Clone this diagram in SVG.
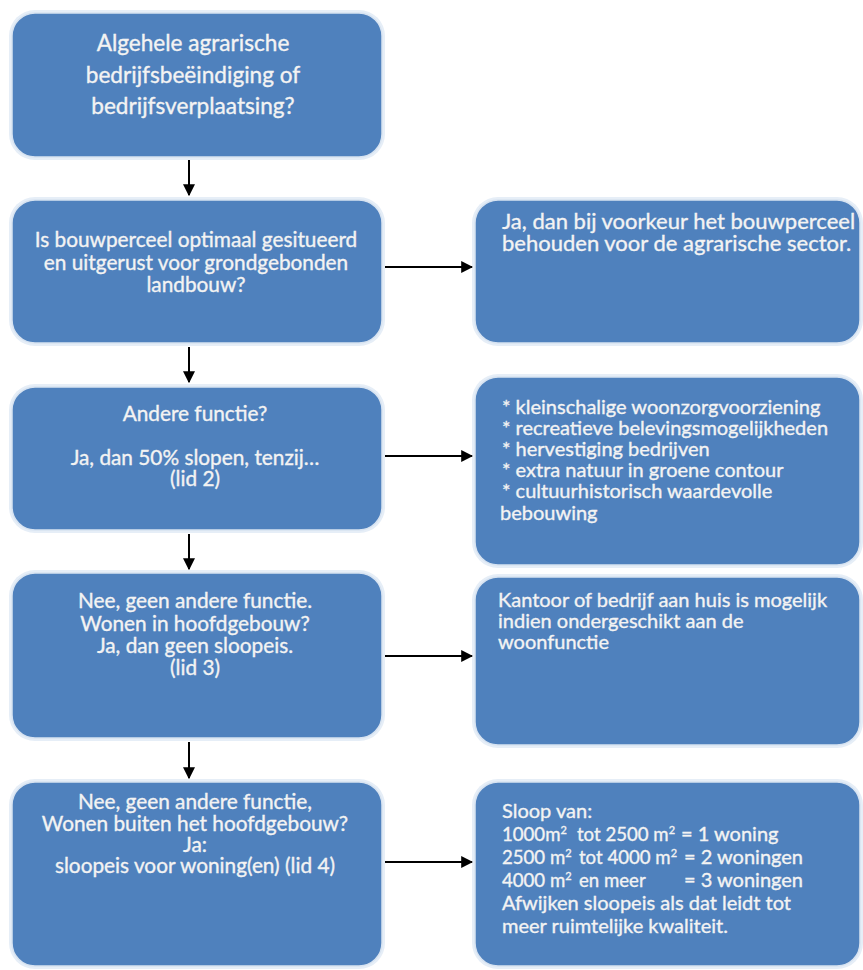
<svg xmlns="http://www.w3.org/2000/svg" width="863" height="970" viewBox="0 0 863 970">
<style>
.glow{fill:#e6eef7;}
.box{fill:#4f81bd;stroke:#d7e3f1;stroke-width:1.5;}
.t{font-family:Lato,"Liberation Sans",sans-serif;font-size:20px;fill:#f3f3f3;stroke:#f3f3f3;stroke-width:0.35px;}
.c{text-anchor:middle;}
.l{font-size:20.8px;}
.big{font-size:22.6px;}
.r2{font-size:22px;}
.num{font-size:18.6px;}
.sup{font-size:11px;}
.conn line{stroke:#000;stroke-width:2;}
</style>
<defs>
<marker id="ah" viewBox="0 0 10 10" refX="9" refY="5" markerWidth="6" markerHeight="6" orient="auto" markerUnits="strokeWidth">
<path d="M0,0 L10,5 L0,10 z" fill="#000"/>
</marker>
</defs>
<rect width="863" height="970" fill="#ffffff"/>

<g id="n1">
<rect class="glow" x="9" y="10" width="376" height="150" rx="26"/>
<rect class="box" x="12" y="13" width="370" height="144" rx="23"/>
<text class="t c big" x="193" y="51">Algehele agrarische</text>
<text class="t c big" x="193" y="83">bedrijfsbeëindiging of</text>
<text class="t c big" x="193" y="114">bedrijfsverplaatsing?</text>
</g>

<g id="n2">
<rect class="glow" x="9" y="197" width="376" height="149" rx="26"/>
<rect class="box" x="12" y="200" width="370" height="143" rx="23"/>
<text class="t c l" x="196" y="247">Is bouwperceel optimaal gesitueerd</text>
<text class="t c l" x="196" y="270">en uitgerust voor grondgebonden</text>
<text class="t c l" x="196" y="292">landbouw?</text>
</g>

<g id="n2r">
<rect class="glow" x="472" y="197" width="391" height="149" rx="26"/>
<rect class="box" x="475" y="200" width="385" height="143" rx="23"/>
<text class="t r2" x="502" y="229">Ja, dan bij voorkeur het bouwperceel</text>
<text class="t r2" x="502" y="251">behouden voor de agrarische sector.</text>
</g>

<g id="n3">
<rect class="glow" x="9" y="384" width="376" height="149" rx="26"/>
<rect class="box" x="12" y="387" width="370" height="143" rx="23"/>
<text class="t c l" x="195" y="421">Andere functie?</text>
<text class="t c l" x="195" y="465">Ja, dan 50% slopen, tenzij…</text>
<text class="t c l" x="195" y="486">(lid 2)</text>
</g>

<g id="n3r">
<rect class="glow" x="472" y="374" width="391" height="194" rx="26"/>
<rect class="box" x="475" y="377" width="385" height="188" rx="23"/>
<text class="t" x="502" y="414">* kleinschalige woonzorgvoorziening</text>
<text class="t" x="502" y="435">* recreatieve belevingsmogelijkheden</text>
<text class="t" x="502" y="456">* hervestiging bedrijven</text>
<text class="t" x="502" y="477">* extra natuur in groene contour</text>
<text class="t" x="502" y="498">* cultuurhistorisch waardevolle</text>
<text class="t" x="500" y="520">bebouwing</text>
</g>

<g id="n4">
<rect class="glow" x="9" y="570" width="376" height="171" rx="26"/>
<rect class="box" x="12" y="573" width="370" height="165" rx="23"/>
<text class="t c l" x="195" y="608">Nee, geen andere functie.</text>
<text class="t c l" x="195" y="631">Wonen in hoofdgebouw?</text>
<text class="t c l" x="195" y="653">Ja, dan geen sloopeis.</text>
<text class="t c l" x="195" y="675">(lid 3)</text>
</g>

<g id="n4r">
<rect class="glow" x="472" y="574" width="391" height="174" rx="26"/>
<rect class="box" x="475" y="577" width="385" height="168" rx="23"/>
<text class="t" x="498" y="607">Kantoor of bedrijf aan huis is mogelijk</text>
<text class="t" x="498" y="628">indien ondergeschikt aan de</text>
<text class="t" x="498" y="649">woonfunctie</text>
</g>

<g id="n5">
<rect class="glow" x="9" y="779" width="376" height="190" rx="26"/>
<rect class="box" x="12" y="782" width="370" height="184" rx="23"/>
<text class="t c l" x="195" y="809">Nee, geen andere functie,</text>
<text class="t c l" x="195" y="831">Wonen buiten het hoofdgebouw?</text>
<text class="t c l" x="195" y="852">Ja:</text>
<text class="t c l" x="195" y="873">sloopeis voor woning(en) (lid 4)</text>
</g>

<g id="n5r">
<rect class="glow" x="472" y="779" width="391" height="190" rx="26"/>
<rect class="box" x="475" y="782" width="385" height="184" rx="23"/>
<text class="t" x="502" y="818">Sloop van:</text>
<text class="t" x="502" y="841"><tspan class="num">1000m</tspan><tspan class="sup" dy="-7">2</tspan><tspan class="num" x="577" dy="7">tot 2500 m</tspan><tspan class="sup" dy="-7">2</tspan><tspan x="681" dy="7">= 1 woning</tspan></text>
<text class="t" x="502" y="864"><tspan class="num">2500 m</tspan><tspan class="sup" dy="-7">2</tspan><tspan class="num" x="579" dy="7">tot 4000 m</tspan><tspan class="sup" dy="-7">2</tspan><tspan x="684" dy="7">= 2 woningen</tspan></text>
<text class="t" x="502" y="887"><tspan class="num">4000 m</tspan><tspan class="sup" dy="-7">2</tspan><tspan class="num" x="579" dy="7">en meer</tspan><tspan x="684">= 3 woningen</tspan></text>
<text class="t" x="502" y="910">Afwijken sloopeis als dat leidt tot</text>
<text class="t" x="502" y="933">meer ruimtelijke kwaliteit.</text>
</g>

<g id="connectors" class="conn">
<line x1="189" y1="160" x2="189" y2="195" marker-end="url(#ah)"/>
<line x1="189" y1="347" x2="189" y2="382" marker-end="url(#ah)"/>
<line x1="189" y1="534" x2="189" y2="569" marker-end="url(#ah)"/>
<line x1="189" y1="742" x2="189" y2="778" marker-end="url(#ah)"/>
<line x1="385" y1="267" x2="472" y2="267" marker-end="url(#ah)"/>
<line x1="385" y1="456" x2="472" y2="456" marker-end="url(#ah)"/>
<line x1="385" y1="656" x2="472" y2="656" marker-end="url(#ah)"/>
<line x1="385" y1="862" x2="472" y2="862" marker-end="url(#ah)"/>
</g>
</svg>
